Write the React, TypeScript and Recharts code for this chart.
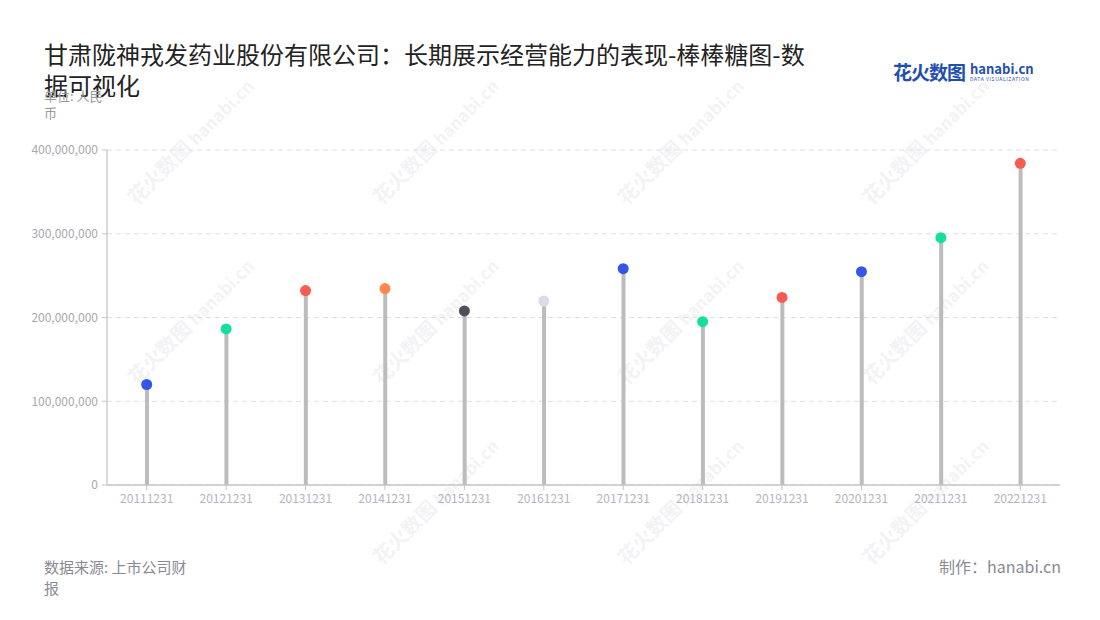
import React from "react";
import { ComposedChart, Bar, Scatter, Cell, XAxis, YAxis, CartesianGrid } from "recharts";

// 报告期
const periods = [
  "20111231", "20121231", "20131231", "20141231", "20151231", "20161231",
  "20171231", "20181231", "20191231", "20201231", "20211231", "20221231",
];

// 营业收入（人民币）
const revenue = [
  120000000, 186300000, 232200000, 234600000, 207800000, 219700000,
  258300000, 195000000, 224000000, 254700000, 295300000, 384100000,
];

const yTicks = [0, 100000000, 200000000, 300000000, 400000000];

const dotColors = [
  "#3556e8", "#14e09c", "#fa5b50", "#ff8a4c", "#4f4f5c", "#dcdce8",
  "#3556e8", "#14e09c", "#fa5b50", "#3556e8", "#14e09c", "#fa5b50",
];

const data = periods.map((p, i) => ({ period: p, value: revenue[i] }));

const FONT = '"Noto Sans CJK SC", "Noto Sans", sans-serif';

const watermarks = [
  [170, 150], [415, 150], [660, 150], [905, 150],
  [170, 330], [415, 330], [660, 330], [905, 330],
  [415, 510], [660, 510], [905, 510],
];

function Watermark({ x, y }: { x: number; y: number }) {
  return (
    <div
      style={{
        position: "absolute",
        left: x - 60,
        top: y - 14,
        width: 140,
        transform: "rotate(-45deg)",
        color: "#f3f3f5",
        fontFamily: FONT,
        fontWeight: 700,
        whiteSpace: "nowrap",
        fontSize: 20,
        pointerEvents: "none",
      }}
    >
      花火数图 <span style={{ fontSize: 17 }}>hanabi.cn</span>
    </div>
  );
}

const Dot = (props: any) => {
  const { cx, cy, fill } = props;
  return <circle cx={cx} cy={cy} r={5.5} fill={fill} />;
};

export default function App() {
  return (
    <div
      style={{
        position: "absolute",
        left: 0,
        top: 0,
        width: 1100,
        height: 620,
        background: "#fff",
        fontFamily: FONT,
        overflow: "hidden",
      }}
    >
      {watermarks.map(([x, y], i) => (
        <Watermark key={i} x={x} y={y} />
      ))}
      <div
        style={{
          position: "absolute",
          left: 44,
          top: 38,
          fontSize: 24,
          lineHeight: "31px",
          color: "#222",
        }}
      >
        甘肃陇神戎发药业股份有限公司：长期展示经营能力的表现-棒棒糖图-数
        <br />
        据可视化
      </div>
      <div
        style={{
          position: "absolute",
          left: 44,
          top: 87,
          width: 64,
          fontSize: 13,
          lineHeight: "17px",
          color: "#999",
        }}
      >
        单位: 人民币
      </div>
      <div
        style={{
          position: "absolute",
          left: 893,
          top: 60,
          display: "flex",
          alignItems: "center",
          color: "#1f4fb0",
          whiteSpace: "nowrap",
        }}
      >
        <span style={{ fontSize: 19, fontWeight: 700, letterSpacing: -1, lineHeight: "24px" }}>花火数图</span>
        <span style={{ marginLeft: 5, display: "flex", flexDirection: "column" }}>
          <span style={{ fontSize: 13, fontWeight: 700, lineHeight: "13px" }}>hanabi.cn</span>
          <span style={{ fontSize: 5, letterSpacing: 0.6, lineHeight: "6px", marginTop: 1 }}>DATA VISUALIZATION</span>
        </span>
      </div>
      <div style={{ position: "absolute", left: 0, top: 0 }}>
        <ComposedChart
          width={1100}
          height={620}
          data={data}
          margin={{ top: 150, right: 40, bottom: 105, left: 47 }}
        >
          <CartesianGrid vertical={false} stroke="#e0e0e0" strokeDasharray="5 4" />
          <XAxis
            dataKey="period"
            height={30}
            interval={0}
            tick={{ fontSize: 12, fill: "#b4b4c4", fontFamily: FONT }}
            tickSize={5}
            tickMargin={4}
            stroke="#c4c4c4"
            axisLine={{ stroke: "#c4c4c4", strokeWidth: 1.5 }}
          />
          <YAxis
            width={60}
            domain={[0, 400000000]}
            ticks={yTicks}
            tickFormatter={(v: number) => v.toLocaleString("en-US")}
            tick={{ fontSize: 12, fill: "#a8a8b0", fontFamily: FONT }}
            tickSize={5}
            tickMargin={4}
            stroke="#c8c8c8"
            axisLine={{ stroke: "#cccccc", strokeWidth: 1.5 }}
          />
          <Bar dataKey="value" barSize={4} fill="#bcbcbc" isAnimationActive={false} />
          <Scatter dataKey="value" shape={Dot} isAnimationActive={false}>
            {data.map((_, i) => (
              <Cell key={i} fill={dotColors[i]} />
            ))}
          </Scatter>
        </ComposedChart>
      </div>
      <div
        style={{
          position: "absolute",
          left: 44,
          top: 556,
          width: 152,
          fontSize: 15,
          lineHeight: "21px",
          color: "#8a8a94",
        }}
      >
        数据来源: 上市公司财报
      </div>
      <div
        style={{
          position: "absolute",
          right: 39,
          top: 556,
          fontSize: 16,
          lineHeight: "21px",
          color: "#8a8a94",
        }}
      >
        制作：hanabi.cn
      </div>
    </div>
  );
}
